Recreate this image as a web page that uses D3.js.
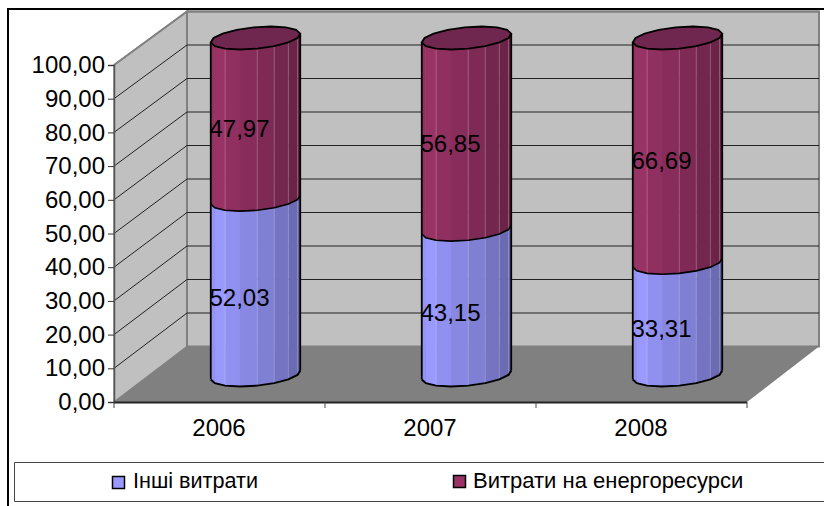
<!DOCTYPE html>
<html><head><meta charset="utf-8">
<script src="https://cdn.jsdelivr.net/npm/d3@7"></script>
<style>
html,body{margin:0;padding:0;background:#fff}
svg{display:block}
text{font-family:"Liberation Sans",Arial,sans-serif;fill:#000}
</style></head><body>
<svg id="c" width="824" height="506"></svg>
<script>
const categories = ["2006","2007","2008"];
const otherCosts = [52.03,43.15,33.31];
const energyCosts = [47.97,56.85,66.69];
const yTicks = [0,10,20,30,40,50,60,70,80,90,100];
const seriesNames = ["Інші витрати","Витрати на енергоресурси"];
const seriesColors = ["#9999FF","#993366"];
const topColor = "#70274F";

const svg = d3.select("#c");
const fmt = v => v.toFixed(2).replace(".",",");

const x = d3.scaleBand().domain(categories).range([114,747]);
const y = d3.scaleLinear().domain([0,100]).range([402,65]);
const yBack = d3.scaleLinear().domain([0,100]).range([346.5,11.5]);
const yMid = d3.scaleLinear().domain([0,100]).range([375,38]);
const backL = 187, backR = 819, depthX = 73;

// frame
svg.append("path").attr("d","M8 506V9H824").attr("fill","none").attr("stroke","#000").attr("stroke-width",2);

// walls & floor
svg.append("path").attr("d",`M114 ${y(100)}L${backL} ${yBack(100)}V${yBack(0)}L114 ${y(0)}Z`)
  .attr("fill","#C0C0C0").attr("stroke","#808080").attr("stroke-width",1.5);
svg.append("rect").attr("x",backL).attr("y",yBack(100)).attr("width",backR-backL).attr("height",yBack(0)-yBack(100))
  .attr("fill","#C0C0C0").attr("stroke","#808080").attr("stroke-width",2);
svg.append("path").attr("d",`M114 ${y(0)}H747L${backR} ${yBack(0)}H${backL}Z`).attr("fill","#808080");

// gridlines
const grid = svg.append("g").attr("fill","none").attr("stroke","#222").attr("stroke-width",1);
yTicks.filter(v=>v>0&&v<100).forEach(v=>{
  grid.append("path").attr("d",`M114 ${y(v)}L${backL} ${yBack(v)}H${backR}`);
});
svg.append("path").attr("d",`M${backR} ${yBack(100)}H${backL}L114 ${y(100)}`).attr("fill","none").attr("stroke","#808080").attr("stroke-width",2);

// cylinders
const W = 42, DX = 15.5, DY = 11.5, N = 16;
const pt = (cx,cy,i) => { const t = i/N*2*Math.PI;
  return [cx + W*Math.cos(t) + DX*Math.sin(t), cy - DY*Math.sin(t)]; };
const frontIdx = d3.range(0,N/2+1).map(k=> 1-k); // right extreme → left extreme along the front
const ring = (cx,cy) => d3.range(N).map(i=>pt(cx,cy,i));
const line = d3.line();
const shade = (c,f)=>d3.interpolateRgb(c,"#000")(f);
const facetShade = [0.36,0.30,0.24,0.17,0.11,0.06,0,0.04];
const litEdges = new Set([1,2,3,4,6]);

function drawSeg(cx,yLow,yHigh,color,isBottom){
  const g = svg.append("g");
  frontIdx.slice(0,-1).forEach((idx,k)=>{
    const a = pt(cx,yLow,idx), b = pt(cx,yLow,idx-1);
    const a2= pt(cx,yHigh,idx), b2= pt(cx,yHigh,idx-1);
    const c = shade(color,facetShade[k]);
    g.append("path").attr("d",line([a,b,b2,a2])+"Z").attr("fill",c).attr("stroke",c).attr("stroke-width",0.4);
    if(litEdges.has(k)) g.append("path").attr("d",line([a,a2])).attr("stroke","#fff").attr("stroke-opacity",0.2).attr("stroke-width",1);
  });
  const front = frontIdx.map(i=>pt(cx,yLow,i));
  const fh = frontIdx.map(i=>pt(cx,yHigh,i));
  g.append("path").attr("d",line([fh[0],front[0]])).attr("stroke","#000").attr("stroke-width",1.8);
  g.append("path").attr("d",line([fh[fh.length-1],front[front.length-1]])).attr("stroke","#000").attr("stroke-width",1.8);
  g.append("path").attr("d",line(front)).attr("fill","none").attr("stroke","#000").attr("stroke-width",isBottom?2:1.6);
}

categories.forEach((c,i)=>{
  const cx = x(c)+x.bandwidth()/2+depthX/2-0.5;
  const y1 = yMid(otherCosts[i]);
  const y2 = yMid(otherCosts[i]+energyCosts[i]);
  drawSeg(cx,yMid(0),y1,seriesColors[0],true);
  drawSeg(cx,y1,y2,seriesColors[1],false);
  svg.append("path").attr("d",line(ring(cx,y2))+"Z").attr("fill",topColor).attr("stroke","#000").attr("stroke-width",1.8);
  [[otherCosts[i],0],[energyCosts[i],otherCosts[i]]].forEach(([v,base])=>{
    svg.append("text").attr("x",cx-16).attr("y",yMid(base+v/2)+10).attr("dy","0.35em")
      .attr("text-anchor","middle").attr("font-size",24).text(fmt(v));
  });
});

// axes
const yAxis = d3.axisLeft(y).tickValues(yTicks).tickFormat(fmt).tickSize(6).tickPadding(3);
const gy = svg.append("g").attr("transform","translate(114,0)").call(yAxis);
gy.selectAll("text").attr("font-size",24).attr("font-family",null).attr("x",-9);
gy.select(".domain").attr("stroke","#555").attr("stroke-width",1.5);
gy.selectAll("line").attr("stroke","#333");
const xAxis = d3.axisBottom(x).tickSize(0).tickPadding(17);
const gx = svg.append("g").attr("transform","translate(-0.5,402)").call(xAxis);
gx.selectAll("text").attr("font-size",24).attr("font-family",null);
gx.select(".domain").remove();
svg.append("path").attr("d",`M114 402.5H747`).attr("stroke","#222").attr("stroke-width",2);
[0,1,2,3].forEach(k=>svg.append("path").attr("d",`M${114+k*x.bandwidth()} 402V408`).attr("stroke","#444"));

// legend
svg.append("path").attr("d","M824 462.5H14.5V501.5H824").attr("fill","#fff").attr("stroke","#444").attr("stroke-width",1);
[[112,133,476,21.6],[453,473,475,22]].forEach(([sx,tx,sy,fs],i)=>{
  svg.append("rect").attr("x",sx+.5).attr("y",sy+.5).attr("width",12).attr("height",12)
    .attr("fill",seriesColors[i]).attr("stroke","#000").attr("stroke-width",1.5);
  svg.append("text").attr("x",tx).attr("y",488).attr("font-size",fs).text(seriesNames[i]);
});
</script></body></html>
